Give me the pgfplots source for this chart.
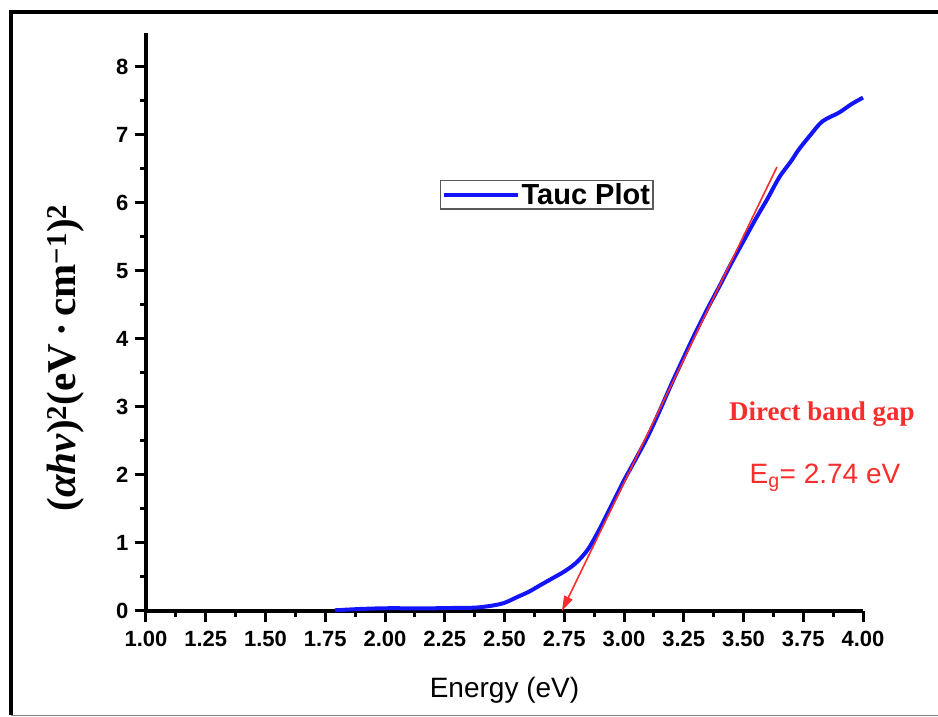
\documentclass[border=0pt]{standalone}
\usepackage{pgfplots}
\pgfplotsset{compat=1.18}
\usepackage{fontspec}
\setmainfont{Liberation Sans}
\newfontfamily\serifbf{Liberation Serif}
\usetikzlibrary{arrows.meta}
\definecolor{taucblue}{RGB}{20,20,250}
\definecolor{gapred}{RGB}{250,45,45}

\begin{document}
\begin{tikzpicture}
\useasboundingbox (0pt,0pt) rectangle (938pt,717pt);
\draw[line width=4pt] (11pt,2pt) -- (11pt,705pt) -- (945pt,705pt);
\draw[gray, line width=1pt] (11pt,1.5pt) -- (945pt,1.5pt);
\begin{axis}[
  at={(146pt,106pt)}, anchor=south west,
  scale only axis, width=717pt, height=578pt,
  xmin=1, xmax=4, ymin=0, ymax=8.5,
  axis x line*=bottom, axis y line*=left,
  axis line style={line width=3.5pt},
  xtick={1,1.25,...,4}, ytick={0,1,...,8},
  minor x tick num=1, minor y tick num=1,
  tick align=outside,
  major tick length=11pt, minor tick length=6pt,
  tick style={black, line width=3pt},
  /pgf/number format/assume math mode=true,
  xticklabel={\pgfmathprintnumber[fixed,fixed zerofill,precision=2]{\tick}},
  tick label style={font=\fontsize{22}{24}\selectfont\bfseries},
  xticklabel style={yshift=-6pt},
  yticklabel style={xshift=-3pt},
  xlabel={Energy (eV)},
  xlabel style={font=\fontsize{28}{30}\selectfont, at={(axis description cs:0.5,0)}, yshift=-79pt, anchor=center},
  ylabel={(\textit{αhv})\textsuperscript{2}(eV\,·\,cm\textsuperscript{−1})\textsuperscript{2}},
  ylabel style={font=\fontsize{41}{44}\selectfont\serifbf\bfseries, at={(axis description cs:-0.112,0.438)}, anchor=center},
  clip=false,
  legend style={at={(axis description cs:0.559,0.72)}, anchor=center, draw=black!65, line width=1.5pt,
    font=\fontsize{29}{31}\selectfont\bfseries, inner xsep=1pt, inner ysep=1pt},
  legend image code/.code={\draw[taucblue, line width=3pt] (0pt,0pt) -- (68pt,0pt); \path (0pt,0pt) -- (74pt,0pt);},
]
\addplot[taucblue, line width=4pt, smooth] coordinates {
(1.79,0.01) (1.90,0.03) (2.00,0.04) (2.10,0.04) (2.20,0.04) (2.30,0.045) (2.38,0.05)
(2.45,0.08) (2.50,0.12) (2.55,0.20) (2.60,0.28) (2.65,0.38) (2.70,0.48) (2.75,0.58)
(2.80,0.71) (2.85,0.91) (2.90,1.22) (2.95,1.57) (3.00,1.92) (3.05,2.24) (3.10,2.57)
(3.15,2.95) (3.20,3.35) (3.25,3.73) (3.30,4.10) (3.35,4.45) (3.40,4.78) (3.45,5.12)
(3.50,5.44) (3.55,5.76) (3.60,6.06) (3.65,6.38) (3.70,6.62) (3.73,6.78) (3.78,7.00)
(3.83,7.20) (3.90,7.33) (3.95,7.45) (4.00,7.55)};
\addlegendentry{Tauc Plot}
\addplot[gapred, line width=1.6pt, -{Triangle[length=15pt,width=9pt]}, forget plot] coordinates {(3.64,6.53) (2.74,0)};
\end{axis}
\node[text=gapred, font=\fontsize{27}{29}\selectfont\serifbf\bfseries] at (822pt,303pt) {Direct band gap};
\node[text=gapred, font=\fontsize{28}{30}\selectfont] at (825pt,239pt) {E$_{\mathrm{g}}$= 2.74 eV};
\end{tikzpicture}
\end{document}
